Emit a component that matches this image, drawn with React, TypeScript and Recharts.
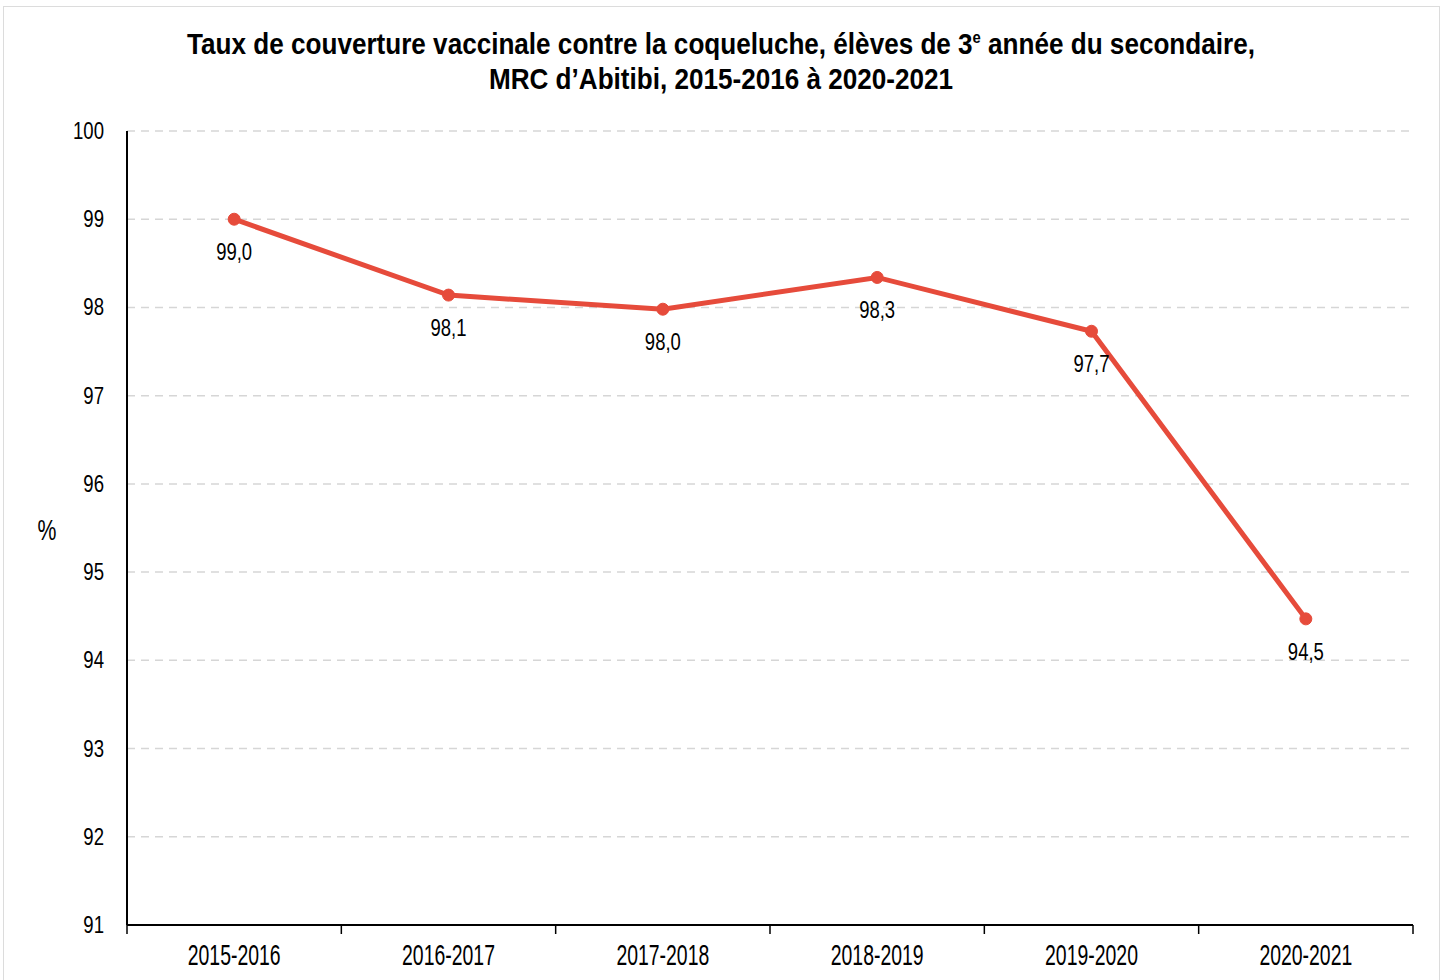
import React from "react"
import {
  LineChart, Line, XAxis, YAxis, CartesianGrid, LabelList,
} from "recharts"

const categories = ["2015-2016", "2016-2017", "2017-2018", "2018-2019", "2019-2020", "2020-2021"]
const coverage = [99.0, 98.14, 97.98, 98.34, 97.73, 94.47]
const yTicks = [91, 92, 93, 94, 95, 96, 97, 98, 99, 100]
const xTicks = [0, 0.5, 1, 1.5, 2, 2.5, 3, 3.5, 4, 4.5, 5, 5.5, 6]

// no Arial Narrow here, so Liberation Sans squeezed horizontally
const FONT = "'Liberation Sans', Arial, sans-serif"
const RED = "#E64B3B"

const data = categories.map((c, i) => ({ x: i + 0.5, year: c, value: coverage[i] }))

function Narrow({ x, y, size, sx, anchor = "middle", bold = false, children }: any) {
  return (
    <text
      transform={`translate(${x},${y}) scale(${sx},1)`}
      textAnchor={anchor}
      fontFamily={FONT}
      fontSize={size}
      fontWeight={bold ? "bold" : "normal"}
      fill="#000"
    >
      {children}
    </text>
  )
}

function XTick(props: any) {
  const { x, y, payload } = props
  const v = payload.value as number
  if (Number.isInteger(v)) {
    return <line x1={x} x2={x} y1={925} y2={934} stroke="#000" strokeWidth={1.5} />
  }
  return <Narrow x={x} y={965} size={29} sx={0.67}>{categories[Math.floor(v)]}</Narrow>
}

function YTick(props: any) {
  const { y, payload } = props
  return <Narrow x={104} y={y + 8} size={23.5} sx={0.79} anchor="end">{payload.value}</Narrow>
}

function PointLabel(props: any) {
  const { x, y, value } = props
  return (
    <Narrow x={x} y={y + 41} size={24} sx={0.77}>
      {Number(value).toFixed(1).replace(".", ",")}
    </Narrow>
  )
}

export default function App() {
  return (
    <div style={{ position: "absolute", left: 0, top: 0, width: 1445, height: 980, background: "#fff", overflow: "hidden" }}>
      <div style={{ position: "absolute", left: 3, top: 6, width: 1435, height: 1000, borderTop: "1.5px solid #dcdcdc", borderLeft: "1.5px solid #dcdcdc", borderRight: "1.5px solid #dcdcdc" }} />
      <svg width={1445} height={120} style={{ position: "absolute", left: 0, top: 0 }}>
        <Narrow x={721} y={54} size={30} sx={0.87} bold>
          Taux de couverture vaccinale contre la coqueluche, élèves de 3
          <tspan fontSize={17} dy={-11}>e</tspan>
          <tspan dy={11}> année du secondaire,</tspan>
        </Narrow>
        <Narrow x={721} y={89} size={30} sx={0.87} bold>
          MRC d’Abitibi, 2015-2016 à 2020-2021
        </Narrow>
      </svg>
      <svg width={100} height={60} style={{ position: "absolute", left: 0, top: 500 }}>
        <Narrow x={47} y={40} size={30} sx={0.71}>%</Narrow>
      </svg>
      <div style={{ position: "absolute", left: 0, top: 0 }}>
        <LineChart width={1445} height={980} data={data} margin={{ top: 131, right: 32, left: 0, bottom: 15 }}>
          <CartesianGrid vertical={false} stroke="#d6d6d6" strokeDasharray="8 6" strokeWidth={1.5} />
          <XAxis
            dataKey="x"
            type="number"
            domain={[0, 6]}
            ticks={xTicks}
            interval={0}
            height={40}
            tickLine={false}
            axisLine={{ stroke: "#000", strokeWidth: 2 }}
            tick={<XTick />}
          />
          <YAxis
            type="number"
            domain={[91, 100]}
            ticks={yTicks}
            interval={0}
            width={127}
            tickSize={0}
            axisLine={{ stroke: "#000", strokeWidth: 2 }}
            tick={<YTick />}
          />
          <Line
            type="linear"
            dataKey="value"
            stroke={RED}
            strokeWidth={5}
            dot={{ r: 6, fill: RED, stroke: RED, strokeWidth: 1 }}
            isAnimationActive={false}
          >
            <LabelList dataKey="value" content={<PointLabel />} />
          </Line>
        </LineChart>
      </div>
    </div>
  )
}
